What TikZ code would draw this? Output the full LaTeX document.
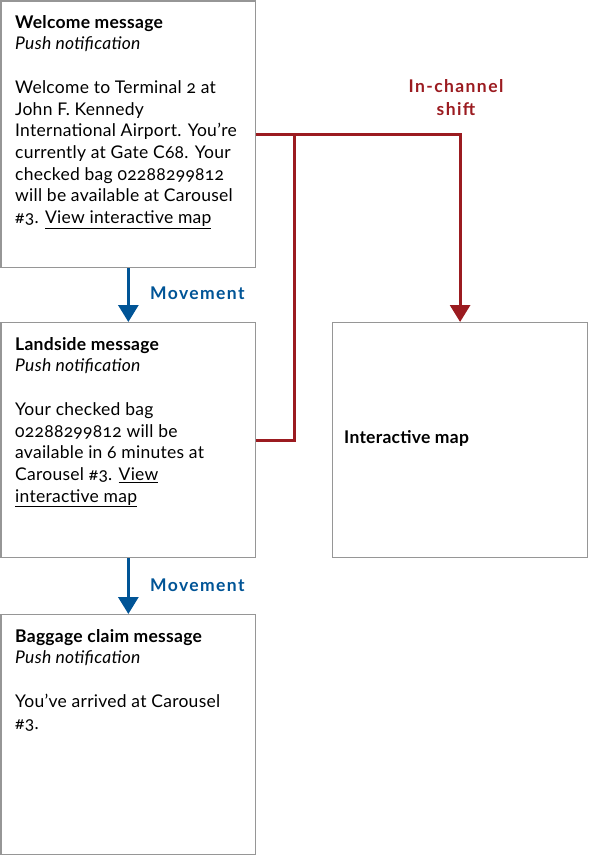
\documentclass[tikz,border=0pt]{standalone}
\usepackage{fontspec}
\setmainfont{Lato}[Numbers=OldStyle, LetterSpace=1.5]
\usetikzlibrary{positioning, arrows.meta}
\definecolor{moveblue}{RGB}{0,84,150}
\definecolor{shiftred}{RGB}{155,27,32}
\definecolor{boxgray}{RGB}{150,150,150}

\begin{document}
\begin{tikzpicture}[
          x=1pt, y=-1pt,
          font=\fontsize{17.5}{21.7}\selectfont,
          msgbox/.style={draw=boxgray, line width=1.2pt, anchor=north west,
            minimum width=254.5pt, inner sep=0pt},
          msgtext/.style={anchor=north west, align=left, inner sep=0pt},
          movearrow/.style={draw=moveblue, line width=3pt,
            -{Triangle[width=20pt,length=17pt]}},
          shiftline/.style={draw=shiftred, line width=3pt},
          movelabel/.style={anchor=base west, inner sep=0pt, text=moveblue,
            font=\fontsize{17.5}{21.7}\selectfont\bfseries\addfontfeatures{LetterSpace=8}}
        ]
        \useasboundingbox (0,0) rectangle (589,856);

        % message boxes
        \node[msgbox, minimum height=266.5pt] (welcome) at (0.5,0.5) {};
        \node[msgbox, minimum height=235pt] (landside) at (0.5,322) {};
        \node[msgbox, minimum height=240pt] (baggage) at (0.5,614) {};
        \node[msgbox, minimum width=255pt, minimum height=235pt] (map) at (332,322) {};

        \node[msgtext] (welcometext) at (15,15) {\textbf{Welcome message}\\
          \textit{Push notification}\\[21.7pt]
          Welcome to Terminal 2 at\\
          John F. Kennedy\\
          International Airport. You’re\\
          currently at Gate C68. Your\\
          checked bag 02288299812\\
          will be available at Carousel\\
          \#3. \underline{View interactive map}};
        \node[msgtext] (landsidetext) at (15,337) {\textbf{Landside message}\\
          \textit{Push notification}\\[21.7pt]
          Your checked bag\\
          02288299812 will be\\
          available in 6 minutes at\\
          Carousel \#3. \underline{View}\\
          \underline{interactive map}};
        \node[msgtext] (baggagetext) at (15,629) {\textbf{Baggage claim message}\\
          \textit{Push notification}\\[21.7pt]
          You’ve arrived at Carousel\\
          \#3.};
        \node[anchor=base west, inner sep=0pt, font=\fontsize{17.5}{21.7}\selectfont\bfseries]
          (maptext) at (344,443) {Interactive map};

        % movement
        \draw[movearrow] (welcome.south) -- (landside.north);
        \draw[movearrow] (landside.south) -- (baggage.north);
        \node[movelabel] (move1) at (150,299) {Movement};
        \node[movelabel] (move2) at (150,591) {Movement};

        % in-channel shift
        \path (welcome.east) ++(38,0) coordinate (join);
        \draw[shiftline, -{Triangle[width=20pt,length=17pt]}] (welcome.east) -| (map.north);
        \draw[shiftline] (landside.east) -| (join);
        \node[anchor=north, align=center, inner sep=0pt, text=shiftred,
          font=\fontsize{17.5}{23}\selectfont\bfseries\addfontfeatures{LetterSpace=8}]
          (shift) at (456,79) {In-channel\\shift};
\end{tikzpicture}
\end{document}
